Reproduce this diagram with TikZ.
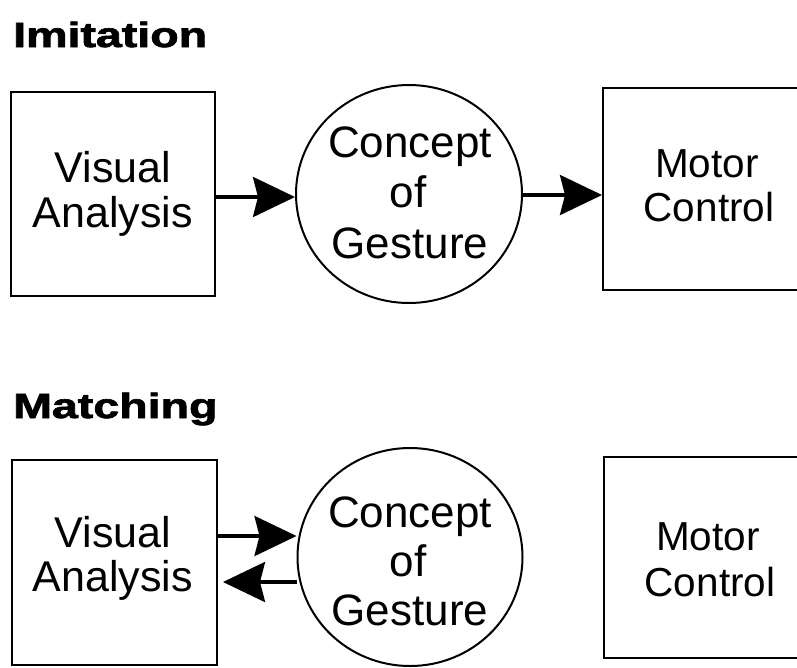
\documentclass[tikz,border=0pt]{standalone}
\usepackage{fontspec}
\usepackage{graphicx}
\setmainfont{Liberation Sans}
\newfontfamily\titlefont[FakeBold=1.8]{Liberation Sans Bold}
\usetikzlibrary{arrows.meta,shapes.geometric}
\tikzset{
  boxnode/.style={draw, line width=2pt, rectangle, inner sep=0pt},
  ellnode/.style={draw, line width=2pt, ellipse, inner sep=0pt},
  bodytxt/.style={anchor=base, inner sep=0pt, font=\fontsize{43}{45}\selectfont},
  circtxt/.style={anchor=base, inner sep=0pt, font=\fontsize{44}{50}\selectfont},
  motortxt/.style={anchor=base, inner sep=0pt, font=\fontsize{40.5}{45}\selectfont},
  titletxt/.style={anchor=base west, inner sep=0pt, font=\fontsize{35}{40}\titlefont},
  arr/.style={line width=3.4pt, -{Stealth[length=42pt, width=40pt, inset=5pt]}}
}
\begin{document}
\begin{tikzpicture}[x=1pt, y=-1pt]
\useasboundingbox (0,0) rectangle (797,667);
\clip (0,0) rectangle (797,667);

% ---------- Imitation ----------
\node[titletxt] (t1) at (13,47) {\scalebox{1.33}[1]{Imitation}};

\node[boxnode, minimum width=204pt, minimum height=204pt] (va1) at (113,194) {};
\node[bodytxt] (va1a) at (113,182) {Visual};
\node[bodytxt] (va1b) at (113,227) {Analysis};

\node[ellnode, minimum width=226pt, minimum height=218pt] (cg1) at (409,194) {};
\node[circtxt] (cg1a) at (410,157) {Concept};
\node[circtxt] (cg1b) at (408,207) {of};
\node[circtxt] (cg1c) at (410,258) {Gesture};

\node[boxnode, minimum width=210pt, minimum height=202pt] (mc1) at (708,189) {};
\node[motortxt] (mc1a) at (707,177) {Motor};
\node[motortxt] (mc1b) at (709,221) {Control};

\coordinate (y1) at (0,197);
\coordinate (y2) at (0,195);
\draw[arr] (va1.east |- y1) -- (cg1.west |- y1);
\draw[arr] (cg1.east |- y2) -- (mc1.west |- y2);

% ---------- Matching ----------
\node[titletxt] (t2) at (13,418) {\scalebox{1.33}[1]{Matching}};

\node[boxnode, minimum width=205pt, minimum height=205pt] (va2) at (114.5,562.5) {};
\node[bodytxt] (va2a) at (113,547) {Visual};
\node[bodytxt] (va2b) at (113,591) {Analysis};

\node[ellnode, minimum width=225pt, minimum height=218pt] (cg2) at (410,557) {};
\node[circtxt] (cg2a) at (410,527) {Concept};
\node[circtxt] (cg2b) at (408,576) {of};
\node[circtxt] (cg2c) at (410,625) {Gesture};

\node[boxnode, minimum width=210pt, minimum height=201pt] (mc2) at (709,557.5) {};
\node[motortxt] (mc2a) at (708,550) {Motor};
\node[motortxt] (mc2b) at (710,596) {Control};

\coordinate (y3) at (0,536);
\coordinate (y4) at (0,582);
\draw[arr] (va2.east |- y3) -- (cg2.west |- y3);
\draw[arr, shorten >=5pt] (cg2.west |- y4) -- (va2.east |- y4);
\end{tikzpicture}
\end{document}
